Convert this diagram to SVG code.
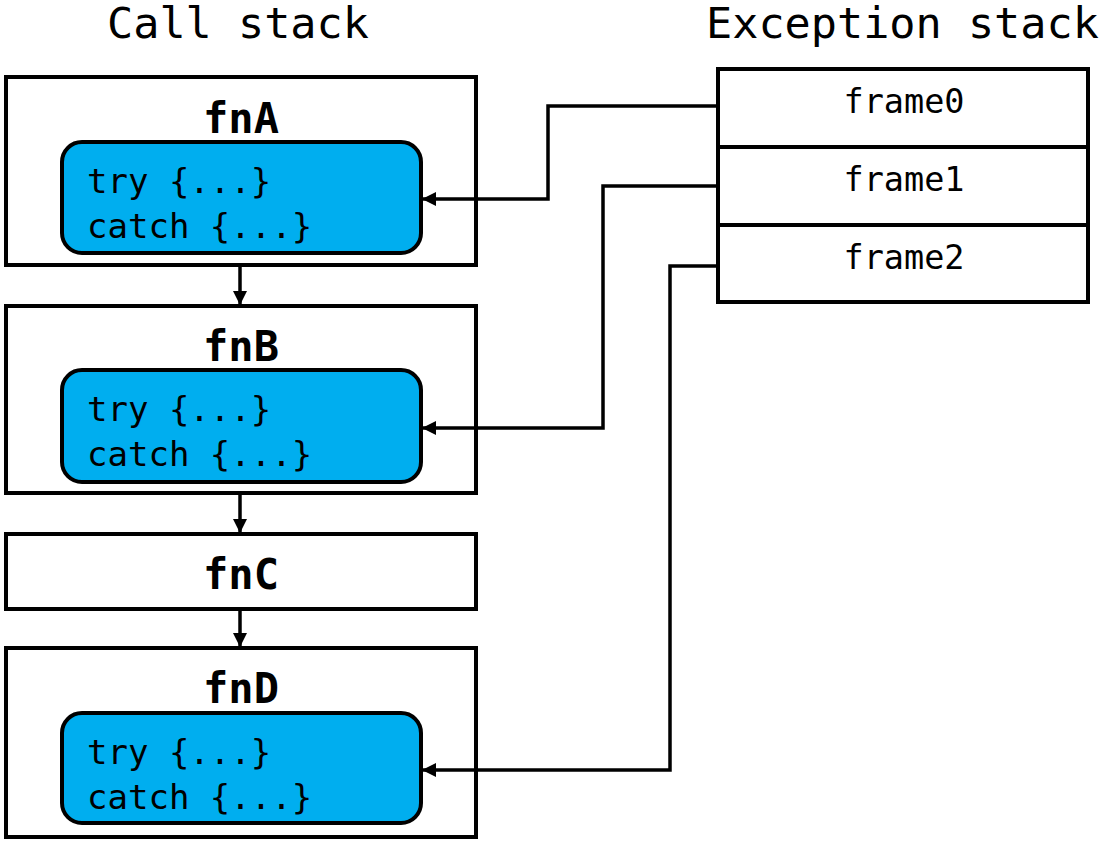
<svg xmlns="http://www.w3.org/2000/svg" width="1102" height="843" viewBox="0 0 1102 843">
<defs>
<marker id="ah" viewBox="0 0 14 14" refX="13" refY="7" markerWidth="14" markerHeight="14" markerUnits="userSpaceOnUse" orient="auto">
<path d="M0,0 L14,7 L0,14 Z" fill="#000"/>
</marker>
</defs>
<style>
.box{fill:#fff;stroke:#000;stroke-width:4}
.blue{fill:#00AEEF;stroke:#000;stroke-width:4}
.title{font-family:"DejaVu Sans Mono","Liberation Mono",monospace;font-size:43.5px;fill:#000}
.fn{font-family:"DejaVu Sans Mono","Liberation Mono",monospace;font-size:42px;font-weight:bold;fill:#000;text-anchor:middle}
.code{font-family:"DejaVu Sans Mono","Liberation Mono",monospace;font-size:34px;fill:#000}
.fr{font-family:"DejaVu Sans Mono","Liberation Mono",monospace;font-size:33.5px;fill:#000;text-anchor:middle}
.conn{fill:none;stroke:#000;stroke-width:3.5}
</style>
<rect width="1102" height="843" fill="#fff"/>
<text class="title" x="107" y="38">Call stack</text>
<text class="title" x="706" y="38">Exception stack</text>

<g id="fnA">
<rect class="box" x="6" y="77" width="470" height="188"/>
<text class="fn" x="241" y="133">fnA</text>
<rect class="blue" x="62" y="142" width="359" height="111" rx="20"/>
<text class="code" x="87" y="193">try {...}</text>
<text class="code" x="87" y="238">catch {...}</text>
</g>

<g id="fnB">
<rect class="box" x="6" y="306" width="470" height="187"/>
<text class="fn" x="241" y="361">fnB</text>
<rect class="blue" x="62" y="370" width="359" height="112" rx="20"/>
<text class="code" x="87" y="421">try {...}</text>
<text class="code" x="87" y="466">catch {...}</text>
</g>

<g id="fnC">
<rect class="box" x="6" y="534" width="470" height="75"/>
<text class="fn" x="241" y="589">fnC</text>
</g>

<g id="fnD">
<rect class="box" x="6" y="648" width="470" height="189"/>
<text class="fn" x="241" y="703">fnD</text>
<rect class="blue" x="62" y="713" width="359" height="110" rx="20"/>
<text class="code" x="87" y="764">try {...}</text>
<text class="code" x="87" y="809">catch {...}</text>
</g>

<g id="exception-stack">
<rect class="box" x="718" y="69" width="370" height="233"/>
<line x1="718" y1="147" x2="1088" y2="147" stroke="#000" stroke-width="4"/>
<line x1="718" y1="225" x2="1088" y2="225" stroke="#000" stroke-width="4"/>
<text class="fr" x="904" y="113">frame0</text>
<text class="fr" x="904" y="191">frame1</text>
<text class="fr" x="904" y="269">frame2</text>
</g>

<g id="connectors">
<line class="conn" x1="240" y1="265" x2="240" y2="304" marker-end="url(#ah)"/>
<line class="conn" x1="240" y1="493" x2="240" y2="532" marker-end="url(#ah)"/>
<line class="conn" x1="240" y1="609" x2="240" y2="646" marker-end="url(#ah)"/>
<polyline class="conn" points="718,106 548,106 548,199 423,199" marker-end="url(#ah)"/>
<polyline class="conn" points="718,186 603,186 603,428 423,428" marker-end="url(#ah)"/>
<polyline class="conn" points="718,266 670,266 670,770 423,770" marker-end="url(#ah)"/>
</g>
</svg>
